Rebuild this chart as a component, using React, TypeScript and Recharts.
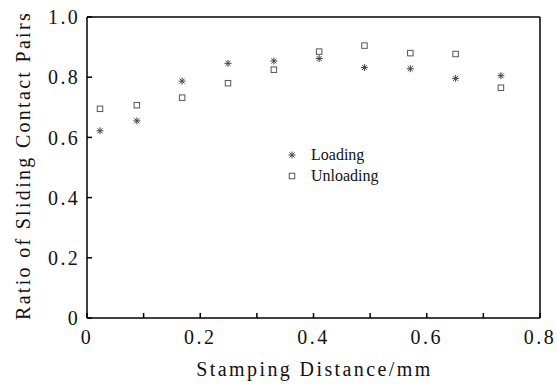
import React from 'react';
import { ScatterChart, Scatter, XAxis, YAxis, ReferenceLine } from 'recharts';

const distance = [0.023, 0.088, 0.168, 0.249, 0.33, 0.41, 0.49, 0.571, 0.651, 0.731];
const loading = [0.622, 0.655, 0.787, 0.846, 0.854, 0.862, 0.832, 0.828, 0.796, 0.805];
const unloading = [0.695, 0.707, 0.732, 0.78, 0.825, 0.885, 0.905, 0.88, 0.877, 0.765];
const xTicks = [0, 0.1, 0.2, 0.3, 0.4, 0.5, 0.6, 0.7, 0.8];
const xLabeled = [0, 0.2, 0.4, 0.6, 0.8];
const yTicks = [0, 0.2, 0.4, 0.6, 0.8, 1.0];
const seriesNames = ['Loading', 'Unloading'];
const xTitle = 'Stamping Distance/mm';
const yTitle = 'Ratio of Sliding Contact Pairs';

const loadingData = distance.map((x, i) => ({ x, y: loading[i] }));
const unloadingData = distance.map((x, i) => ({ x, y: unloading[i] }));

const FONT = "'Liberation Serif', 'Times New Roman', serif";

const fmt = (v: number) => (Math.abs(v) < 1e-9 ? '0' : v.toFixed(1));
const fmtX = (v: number) => (xLabeled.some((t) => Math.abs(t - v) < 1e-6) ? fmt(v) : '');

const Star = (props: any) => {
  const { cx, cy } = props;
  if (cx == null || cy == null) return null;
  const r = 3.5;
  const d = r * 0.72;
  return (
    <g stroke="#444" strokeWidth={1}>
      <line x1={cx - r} y1={cy} x2={cx + r} y2={cy} />
      <line x1={cx} y1={cy - r} x2={cx} y2={cy + r} />
      <line x1={cx - d} y1={cy - d} x2={cx + d} y2={cy + d} />
      <line x1={cx - d} y1={cy + d} x2={cx + d} y2={cy - d} />
    </g>
  );
};

const Square = (props: any) => {
  const { cx, cy } = props;
  if (cx == null || cy == null) return null;
  const s = 5.5;
  return <rect x={cx - s / 2} y={cy - s / 2} width={s} height={s} fill="none" stroke="#555" strokeWidth={1} />;
};

const LegendBox = () => (
  <div
    style={{
      position: 'absolute',
      left: 285,
      top: 145,
      fontFamily: FONT,
      fontSize: 16,
      color: '#111',
      lineHeight: '20.5px',
    }}
  >
    {seriesNames.map((n, i) => (
      <div key={n} style={{ display: 'flex', alignItems: 'center' }}>
        <svg width={14} height={14} style={{ marginRight: 12 }}>
          {i === 0 ? <Star cx={7} cy={7} /> : <Square cx={7} cy={7} />}
        </svg>
        <span>{n}</span>
      </div>
    ))}
  </div>
);

const tickStyle = { fill: '#111', fontSize: 20, fontFamily: FONT, letterSpacing: 2.5, style: { fontFamily: FONT } };

export default function App() {
  return (
    <div style={{ position: 'absolute', left: 0, top: 0, width: 557, height: 385, background: '#fff', fontFamily: FONT }}>
      <ScatterChart width={557} height={385} margin={{ top: 17, right: 17, bottom: 37, left: 0 }} style={{ fontFamily: FONT }}>
        <XAxis
          type="number"
          dataKey="x"
          domain={[0, 0.8]}
          ticks={xTicks}
          tickFormatter={fmtX}
          interval={0}
          height={30}
          tickSize={-5}
          tickMargin={17}
          stroke="#000"
          strokeWidth={1.5}
          tick={tickStyle}
          label={(p: any) => {
            const vb = p.viewBox;
            return (
              <text
                x={vb.x + vb.width / 2 + 1}
                y={376}
                textAnchor="middle"
                style={{ fontFamily: FONT, fontSize: 20, letterSpacing: 2.4 }}
                fill="#111"
              >
                {xTitle}
              </text>
            );
          }}
        />
        <YAxis
          type="number"
          dataKey="y"
          domain={[0, 1]}
          ticks={yTicks}
          tickFormatter={fmt}
          interval={0}
          width={87}
          tickSize={-5}
          tickMargin={12}
          stroke="#000"
          strokeWidth={1.5}
          tick={{ ...tickStyle, letterSpacing: 2.3 }}
          label={(p: any) => {
            const vb = p.viewBox;
            const cx = 30;
            const cy = vb.y + vb.height / 2 - 2;
            return (
              <text
                x={cx}
                y={cy}
                transform={`rotate(-90 ${cx} ${cy})`}
                textAnchor="middle"
                style={{ fontFamily: FONT, fontSize: 20, letterSpacing: 2.3 }}
                fill="#111"
              >
                {yTitle}
              </text>
            );
          }}
        />
        <ReferenceLine y={1} stroke="#000" strokeWidth={1.5} ifOverflow="extendDomain" />
        <ReferenceLine x={0.8} stroke="#000" strokeWidth={1.5} ifOverflow="extendDomain" />
        <Scatter name={seriesNames[0]} data={loadingData} shape={Star} isAnimationActive={false} />
        <Scatter name={seriesNames[1]} data={unloadingData} shape={Square} isAnimationActive={false} />
      </ScatterChart>
      <LegendBox />
    </div>
  );
}
